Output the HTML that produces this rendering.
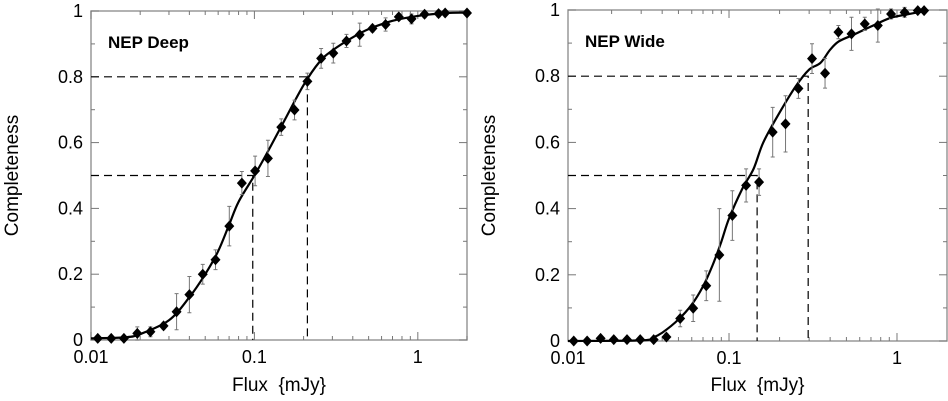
<!DOCTYPE html>
<html><head><meta charset="utf-8">
<style>
html,body{margin:0;padding:0;background:#fff;}
svg{display:block;font-family:"Liberation Sans",Arial,sans-serif;}
text{white-space:pre;}
</style></head>
<body>
<svg id="chart" width="948" height="401" viewBox="0 0 948 401" xmlns="http://www.w3.org/2000/svg"></svg>
<script>
// ---- NEP Deep data ----
const deepFlux = [0.0110,0.0133,0.0159,0.0192,0.0231,0.0278,0.0334,0.0400,0.0483,0.0578,0.0702,0.0838,0.101,0.121,0.146,0.176,0.211,0.256,0.304,0.366,0.441,0.528,0.635,0.765,0.915,1.10,1.34,1.47,2.0];
const deepComp = [0.005,0.005,0.005,0.02,0.025,0.043,0.086,0.138,0.20,0.244,0.346,0.477,0.514,0.552,0.647,0.699,0.786,0.856,0.872,0.909,0.928,0.947,0.959,0.982,0.976,0.99,0.992,0.994,0.994];
const deepErr = [0.005,0.005,0.005,0.02,0.015,0.01,0.055,0.055,0.03,0.03,0.06,0.035,0.045,0.055,0.025,0.03,0.025,0.03,0.03,0.02,0.035,0.01,0.02,0.01,0.015,0.01,0.01,0.005,0];
const deepFitX = [0.01,0.016,0.02,0.03,0.04,0.05,0.06,0.07,0.08,0.1,0.12,0.15,0.2,0.25,0.3,0.4,0.5,0.7,1,1.5,2];
const deepFitY = [0.005,0.008,0.018,0.06,0.13,0.2,0.27,0.35,0.42,0.5,0.57,0.66,0.775,0.845,0.88,0.92,0.945,0.97,0.985,0.994,0.995];
const deepLevels = [0.5,0.8];
const deepLevelFlux = [0.0977,0.211];
// ---- NEP Wide data ----
const wideFlux = [0.0119,0.0143,0.0172,0.0206,0.0247,0.0296,0.0356,0.0424,0.0512,0.0612,0.0732,0.0876,0.1047,0.1264,0.151,0.182,0.217,0.259,0.312,0.373,0.448,0.536,0.643,0.769,0.922,1.11,1.33,1.45];
const wideComp = [0,0,0.008,0.004,0.004,0.004,0.004,0.012,0.068,0.099,0.167,0.26,0.379,0.47,0.48,0.631,0.656,0.763,0.853,0.809,0.933,0.928,0.958,0.953,0.988,0.993,0.998,0.998];
const wideErr = [0,0,0.003,0,0,0,0,0.01,0.025,0.04,0.045,0.14,0.075,0.05,0.04,0.075,0.085,0.03,0.045,0.045,0.02,0.05,0.02,0.05,0.015,0.015,0.005,0.005];
const wideFitX = [0.011,0.03,0.035,0.04,0.05,0.06,0.07,0.08,0.09,0.1,0.12,0.14,0.16,0.2,0.25,0.3,0.35,0.4,0.45,0.55,0.7,0.9,1.1,1.4];
const wideFitY = [0,0.002,0.01,0.025,0.065,0.11,0.165,0.23,0.3,0.37,0.46,0.52,0.6,0.69,0.77,0.82,0.84,0.88,0.905,0.925,0.95,0.975,0.985,0.995];
const wideLevels = [0.5,0.8];
const wideLevelFlux = [0.147,0.296];
// ---- axes ----
const xTickVals = [0.01,0.1,1];
const xTickLabels = ["0.01","0.1","1"];
const yTickVals = [0,0.2,0.4,0.6,0.8,1];
const yTickLabels = ["0","0.2","0.4","0.6","0.8","1"];

const NS="http://www.w3.org/2000/svg";
const svg=document.getElementById('chart');
function mk(tag,attrs,parent){const e=document.createElementNS(NS,tag);for(const k in attrs)e.setAttribute(k,attrs[k]);(parent||svg).appendChild(e);return e;}

function panel(cfg){
  const g=mk('g',{});
  
  
  const L=cfg.left,R=cfg.right,T=cfg.top,B=cfg.bottom;
  const lmin=Math.log10(cfg.xmin),lmax=Math.log10(cfg.xmax);
  const X=v=>L+(Math.log10(v)-lmin)/(lmax-lmin)*(R-L);
  const Y=v=>B-v*(B-T);
  const frame=mk('rect',{x:L,y:T,width:R-L,height:B-T,fill:'none',stroke:'#999','stroke-width':1.5},g);
  
  
  for(let d=-2;d<=0;d++){for(let m=1;m<=9;m++){const v=m*Math.pow(10,d);if(v>cfg.xmax||v<cfg.xmin)continue;const x=X(v);const len=m===1?8:4;
    mk('line',{x1:x,y1:B,x2:x,y2:B-len,stroke:'#777','stroke-width':1},g);
    mk('line',{x1:x,y1:T,x2:x,y2:T+len,stroke:'#777','stroke-width':1},g);}}
  xTickVals.forEach((v,i)=>{const t=mk('text',{x:Math.max(L,X(v)),y:B+23,'font-size':18,'text-anchor':'middle',fill:'#000'},g);t.textContent=xTickLabels[i];
    
    });
  for(let k=0;k<=10;k++){const y=Y(k/10);const len=k%2===0?8:4;
    mk('line',{x1:L,y1:y,x2:L+len,y2:y,stroke:'#777','stroke-width':1},g);
    mk('line',{x1:R,y1:y,x2:R-len,y2:y,stroke:'#777','stroke-width':1},g);}
  yTickVals.forEach((v,i)=>{const t=mk('text',{x:L-8,y:Y(v)+6,'font-size':18,'text-anchor':'end',fill:'#000'},g);t.textContent=yTickLabels[i];
    
    });
  const yt=mk('text',{x:0,y:0,'font-size':19,'text-anchor':'middle',fill:'#000',transform:`translate(${cfg.ytitleX},${(T+B)/2}) rotate(-90)`},g);
  yt.textContent='Completeness';
  
  
  const xt=mk('text',{x:(L+R)/2,y:391,'font-size':19,'text-anchor':'middle',fill:'#000'},g);
  xt.textContent='Flux  {mJy}';
  
  
  const lab=mk('text',{x:L+17,y:T+37,'font-size':17,'font-weight':'bold',fill:'#000'},g);
  lab.textContent=cfg.label;
  
  
  cfg.levels.forEach((lv,i)=>{const xf=X(cfg.levelFlux[i]);
    const p=mk('polyline',{points:`${L},${Y(lv)} ${xf},${Y(lv)} ${xf},${B}`,fill:'none',stroke:'#000','stroke-width':1.2,'stroke-dasharray':'8,5'},g);
    
    });
  const pts=cfg.fitX.map((v,i)=>[X(v),Y(cfg.fitY[i])]);
  let d=`M${pts[0][0]},${pts[0][1]}`;
  for(let i=0;i<pts.length-1;i++){const p0=pts[Math.max(0,i-1)],p1=pts[i],p2=pts[i+1],p3=pts[Math.min(pts.length-1,i+2)];
    d+=` C${p1[0]+(p2[0]-p0[0])/6},${p1[1]+(p2[1]-p0[1])/6} ${p2[0]-(p3[0]-p1[0])/6},${p2[1]-(p3[1]-p1[1])/6} ${p2[0]},${p2[1]}`;}
  const c=mk('path',{d:d,fill:'none',stroke:'#000','stroke-width':2.2},g);
  
  
  cfg.flux.forEach((v,i)=>{const x=X(v),y=Y(cfg.comp[i]),e=cfg.err[i];
    if(e>0){const eb=mk('path',{d:`M${x},${Y(cfg.comp[i]-e)}V${Y(cfg.comp[i]+e)}M${x-2},${Y(cfg.comp[i]-e)}h4M${x-2},${Y(cfg.comp[i]+e)}h4`,stroke:'#777','stroke-width':1,fill:'none'},g);
      
      }
    const m=mk('polygon',{points:`${x},${y-5.5} ${x+5},${y} ${x},${y+5.5} ${x-5},${y}`,fill:'#000'},g);
    
    });
}
panel({name:'nep-deep-panel',label:'NEP Deep',left:91,right:467,top:11,bottom:340,ytitleX:18,xmin:0.01,xmax:2,
  flux:deepFlux,comp:deepComp,err:deepErr,fitX:deepFitX,fitY:deepFitY,levels:deepLevels,levelFlux:deepLevelFlux});
panel({name:'nep-wide-panel',label:'NEP Wide',left:568,right:947,top:10,bottom:341,ytitleX:495,xmin:0.011,xmax:1.985,
  flux:wideFlux,comp:wideComp,err:wideErr,fitX:wideFitX,fitY:wideFitY,levels:wideLevels,levelFlux:wideLevelFlux});
</script>
</body></html>
